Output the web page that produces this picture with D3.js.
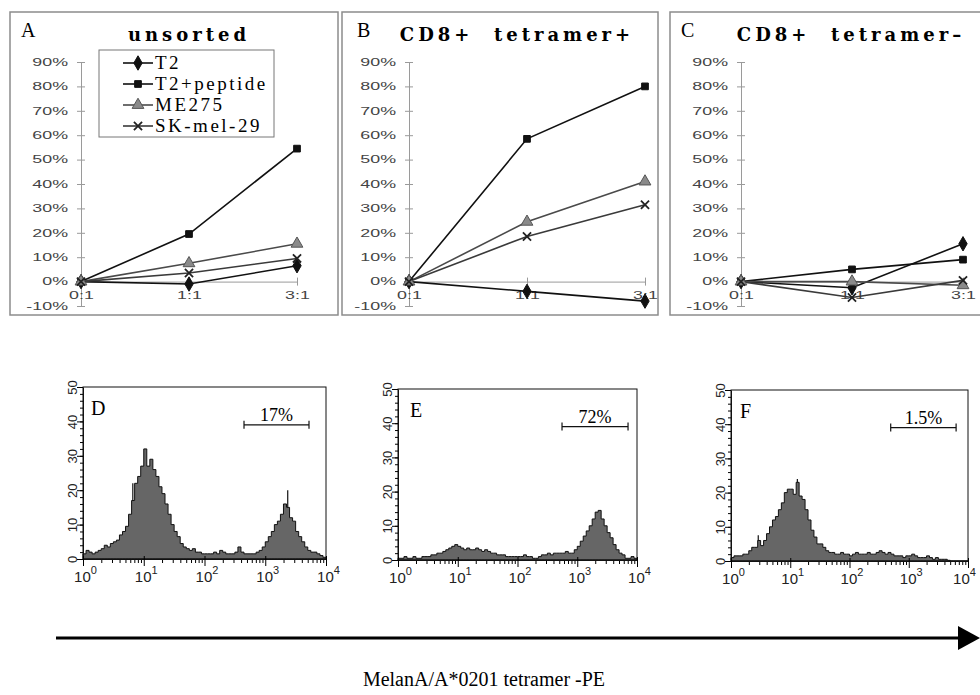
<!DOCTYPE html>
<html>
<head>
<meta charset="utf-8">
<script src="https://cdn.jsdelivr.net/npm/d3@7"></script>
<style>
  body { margin: 0; background: #fff; }
  svg { display: block; }
</style>
</head>
<body>
<div id="chart-container"></div>
<script>
// ---------- data ----------
var ratios = ["0:1", "1:1", "3:1"];
var seriesNames = ["T2", "T2+peptide", "ME275", "SK-mel-29"];
var percentTicks = [-10, 0, 10, 20, 30, 40, 50, 60, 70, 80, 90];

// % lysis, one row per series (same order as seriesNames)
var unsortedLysis = [[0, -1, 6.5], [0, 19.5, 54.5], [0, 7.5, 15.5], [0, 3.5, 9.5]];
var tetPosLysis   = [[0, -4, -8], [0, 58.5, 80], [0, 24.5, 41], [0, 18.5, 31.5]];
var tetNegLysis   = [[0, -2.5, 15.5], [0, 5, 9], [0, 0, -1.5], [0, -6.5, 0.5]];

// histograms: counts per bin, bins are 0.05 decade wide starting at 10^0
var histBinWidth = 0.05;
var histD = [1.5,2.5,2,1.5,2,2.5,3,4,3.5,4.5,
             5,5.5,7,8,9.5,13,17,22,24,27,
             32,27,29,26,24,21,19,16,13,10,
             8,6.5,4.5,3.5,3,2.5,3,2,2,1.5,
             1.5,1.5,1.5,2,1.5,2.5,2,1.5,1.5,1.5,
             2,3.5,2,1.5,1.5,1.5,1.5,2,2.5,3.5,
             5,6.5,8,10,11,13,16,15,12,11,
             8,6.5,5,3.5,2.5,2,2,1.5,1,0.5];
var histE = [0.5,0.5,1,0.5,0.5,1,0.5,0.5,1,1,
             1,1.5,1.5,2,2,2.5,3,3.5,4,4.5,
             4,3.5,3,3.5,3,3,3.5,3,2.5,3,
             2.5,2,2,1.5,1.5,1.5,1,1,1,1,
             1,1,1.5,1,1,0.5,0.5,1,1.5,1.5,
             2,1.5,2,2,2,2,2.5,2,2,3,
             4,5.5,7,8.5,10,12,14,14.5,12,10,
             8,6.5,4.5,3,2,1.5,0.5,0.5,1,0.5];
var histF = [1,1.5,1.5,1.5,2,2,3,4,4,6,
             4.5,6,8,10,12,13,15,17,20,21,
             21,19.5,23,19,18,15,12,9,7,5,
             5,4,3,2.5,2.5,2,2,2.5,2,2,
             1.5,2,2.5,2,2,2,2.5,2,2,2.5,
             3,2.5,2,2.5,2,1.5,1.5,1.5,1,1.5,
             1.5,2,1.5,1,1,1,1.5,1,0.5,1,
             0.5,0.5,0.5,0.2,0,0,0,0,0,0];
// single-channel spikes above the binned outline: [decade position, count]
var spikesD = [[0.82, 22], [3.37, 20]];
var spikesE = [];
var spikesF = [[0.46, 7.5], [1.12, 24]];

var countTicks = [0, 10, 20, 30, 40, 50];
var decadeTicks = [1, 10, 100, 1000, 10000];
var gateD = [447, 5250], gateE = [556, 7080], gateF = [496, 6300];
var gateLevel = 39;

// ---------- setup ----------
var serif = "'Liberation Serif', 'Times New Roman', serif";
var sans = "'Liberation Sans', Arial, sans-serif";

var svg = d3.select("#chart-container")
    .append("svg")
    .attr("width", 980)
    .attr("height", 695);

var markerTypes = [d3.symbolDiamond, d3.symbolSquare, d3.symbolTriangle, d3.symbolX];
var lineColors = ["#111", "#111", "#4a4a4a", "#3a3a3a"];
var markerFill = ["#111", "#111", "#8a8a8a", "none"];
var markerStroke = ["#111", "#111", "#555", "#222"];
var markerSize = [60, 45, 60, 45];

var yLysis = d3.scaleLinear().domain([-10, 90]).range([306, 62]);

function marker(g, i, cx, cy) {
    g.append("path")
        .attr("d", d3.symbol().type(markerTypes[i]).size(markerSize[i]))
        .attr("transform", "translate(" + cx + "," + cy + ")")
        .attr("fill", markerFill[i])
        .attr("stroke", markerStroke[i])
        .attr("stroke-width", i === 3 ? 1.8 : 1);
}

// top row: line charts
function drawLysisPanel(p, values) {
    var g = svg.append("g");

    g.append("rect")
        .attr("x", p.box[0]).attr("y", p.box[1])
        .attr("width", p.box[2]).attr("height", p.box[3])
        .attr("fill", "none")
        .attr("stroke", "#8c8c8c")
        .attr("stroke-width", 1.5);

    g.append("text")
        .attr("x", p.letterX).attr("y", 37)
        .style("font-family", serif)
        .style("font-size", "20px")
        .text(p.letter);

    g.append("text")
        .attr("x", p.titleX).attr("y", 41)
        .attr("text-anchor", "middle")
        .style("font-family", "'DejaVu Serif', serif")
        .style("font-weight", "bold")
        .style("font-size", "18px")
        .style("letter-spacing", "4px")
        .style("white-space", "pre")
        .text(p.title);

    var x = d3.scalePoint().domain(ratios).range([p.x0, p.x1]);

    // y axis
    var yAxis = g.append("g")
        .attr("transform", "translate(" + p.x0 + ",0)")
        .call(d3.axisLeft(yLysis).tickValues(percentTicks).tickSizeOuter(0)
            .tickFormat(function(d) { return d + "%"; }));
    yAxis.select(".domain").attr("stroke", "#9a9a9a");
    yAxis.selectAll(".tick line").attr("stroke", "#9a9a9a").attr("x1", -4).attr("x2", 4);
    yAxis.selectAll(".tick text")
        .attr("x", 0)
        .attr("transform", "translate(-13,0) scale(1.7,1)")
        .attr("fill", "#444")
        .style("font-family", sans)
        .style("font-size", "10.5px");

    // x axis along 0%
    var xAxis = g.append("g")
        .attr("transform", "translate(0," + yLysis(0) + ")")
        .call(d3.axisBottom(x).tickSizeOuter(0));
    xAxis.select(".domain").attr("stroke", "#9a9a9a");
    xAxis.selectAll(".tick line").attr("stroke", "#9a9a9a").attr("y1", -4).attr("y2", 4);
    xAxis.selectAll(".tick text")
        .attr("y", 0)
        .attr("dy", null)
        .attr("transform", "translate(0,17) scale(1.7,1)")
        .attr("fill", "#444")
        .style("font-family", sans)
        .style("font-size", "10.5px");

    var line = d3.line()
        .x(function(d, i) { return x(ratios[i]); })
        .y(function(d) { return yLysis(d); });

    values.forEach(function(row, s) {
        g.append("path")
            .datum(row)
            .attr("fill", "none")
            .attr("stroke", lineColors[s])
            .attr("stroke-width", 1.6)
            .attr("d", line);
    });
    values.forEach(function(row, s) {
        row.forEach(function(v, i) {
            marker(g, s, x(ratios[i]), yLysis(v));
        });
    });

    if (p.legend) {
        var lg = g.append("g");
        lg.append("rect")
            .attr("x", 99).attr("y", 50).attr("width", 175).attr("height", 87)
            .attr("fill", "#fff").attr("stroke", "#777").attr("stroke-width", 1);
        var rowY = [63, 84, 105, 126];
        seriesNames.forEach(function(name, s) {
            lg.append("line")
                .attr("x1", 123).attr("x2", 153)
                .attr("y1", rowY[s]).attr("y2", rowY[s])
                .attr("stroke", lineColors[s]).attr("stroke-width", 1.6);
            marker(lg, s, 138, rowY[s]);
            lg.append("text")
                .attr("x", 155).attr("y", rowY[s] + 6)
                .style("font-family", serif)
                .style("font-size", "19px")
                .style("letter-spacing", "2.5px")
                .text(name);
        });
    }
}

drawLysisPanel({box: [10, 12, 328, 303], letter: "A", letterX: 21, title: "unsorted", titleX: 189,
    x0: 81, x1: 297, legend: true}, unsortedLysis);
drawLysisPanel({box: [342, 12, 316, 303], letter: "B", letterX: 357, title: "CD8+  tetramer+", titleX: 517,
    x0: 409, x1: 645}, tetPosLysis);
drawLysisPanel({box: [670, 12, 320, 303], letter: "C", letterX: 681, title: "CD8+  tetramer\u2013", titleX: 851,
    x0: 741, x1: 963}, tetNegLysis);

// bottom row: histograms
function drawHistogram(p, counts, spikes, gate, gateLabel) {
    var g = svg.append("g");
    var x = d3.scaleLog().domain([1, 10000]).range([p.x0, p.x1]);
    var y = d3.scaleLinear().domain([0, 50]).range([p.yBase, p.yTop]);

    var pts = counts.map(function(c, i) { return {v: Math.pow(10, i * histBinWidth), c: c}; });
    pts.push({v: 10000, c: counts[counts.length - 1]});

    var area = d3.area()
        .curve(d3.curveStepAfter)
        .x(function(d) { return x(d.v); })
        .y0(y(0))
        .y1(function(d) { return y(d.c); });

    g.append("path")
        .datum(pts)
        .attr("d", area)
        .attr("fill", "#666")
        .attr("stroke", "#111")
        .attr("stroke-width", 1);

    spikes.forEach(function(s) {
        var sx = x(Math.pow(10, s[0]));
        var base = counts[Math.floor(s[0] / histBinWidth)];
        g.append("line")
            .attr("x1", sx).attr("x2", sx)
            .attr("y1", y(base)).attr("y2", y(s[1]))
            .attr("stroke", "#111").attr("stroke-width", 1.2);
    });

    g.append("rect")
        .attr("x", p.x0).attr("y", p.yTop)
        .attr("width", p.x1 - p.x0).attr("height", p.yBase - p.yTop)
        .attr("fill", "none").attr("stroke", "#111").attr("stroke-width", 1);

    // y axis: minor ticks every 2, major every 10
    var yMinor = g.append("g").attr("transform", "translate(" + p.x0 + ",0)")
        .call(d3.axisLeft(y).tickValues(d3.range(0, 51, 2)).tickSize(3).tickFormat(""));
    yMinor.select(".domain").remove();

    var yMajor = g.append("g").attr("transform", "translate(" + p.x0 + ",0)")
        .call(d3.axisLeft(y).tickValues(countTicks).tickSize(6).tickSizeOuter(0));
    yMajor.select(".domain").attr("stroke", "#111");
    yMajor.selectAll(".tick text")
        .attr("x", 0).attr("y", -6).attr("dy", null)
        .attr("transform", "rotate(-90)")
        .attr("text-anchor", "middle")
        .attr("fill", "#222")
        .style("font-family", sans)
        .style("font-size", "13px");

    // x axis: log minor ticks and decades
    var minor = [];
    decadeTicks.slice(0, -1).forEach(function(d) {
        for (var k = 2; k <= 9; k++) minor.push(d * k);
    });
    var xMinor = g.append("g").attr("transform", "translate(0," + p.yBase + ")")
        .call(d3.axisBottom(x).tickValues(minor).tickSize(4).tickFormat(""));
    xMinor.select(".domain").remove();

    var xMajor = g.append("g").attr("transform", "translate(0," + p.yBase + ")")
        .call(d3.axisBottom(x).tickValues(decadeTicks).tickSize(7).tickSizeOuter(0).tickFormat(""));
    xMajor.select(".domain").attr("stroke", "#111");
    xMajor.selectAll(".tick line").attr("y1", -3);

    xMajor.selectAll(".tick").each(function(d) {
        // keep the last label inside the page
        var dx = Math.min(2, 977 - 13 - x(d));
        var t = d3.select(this).append("text")
            .attr("x", dx).attr("y", 23)
            .attr("text-anchor", "middle")
            .attr("fill", "#222")
            .style("font-family", sans)
            .style("font-size", "15px");
        t.append("tspan").text("10");
        t.append("tspan").attr("dy", -8).style("font-size", "11px").text(Math.round(Math.log10(d)));
    });

    g.append("text")
        .attr("x", p.letterX).attr("y", p.yTop + 28)
        .style("font-family", serif)
        .style("font-size", "20px")
        .text(p.letter);

    var gy = y(gateLevel), gx0 = x(gate[0]), gx1 = x(gate[1]);
    g.append("line").attr("x1", gx0).attr("x2", gx1).attr("y1", gy).attr("y2", gy)
        .attr("stroke", "#111").attr("stroke-width", 1.2);
    [gx0, gx1].forEach(function(e) {
        g.append("line").attr("x1", e).attr("x2", e).attr("y1", gy - 4).attr("y2", gy + 4)
            .attr("stroke", "#111").attr("stroke-width", 1.2);
    });
    g.append("text")
        .attr("x", (gx0 + gx1) / 2).attr("y", gy - 4)
        .attr("text-anchor", "middle")
        .style("font-family", serif)
        .style("font-size", "18px")
        .text(gateLabel);
}

drawHistogram({x0: 83, x1: 326, yTop: 387, yBase: 559, letter: "D", letterX: 91}, histD, spikesD, gateD, "17%");
drawHistogram({x0: 398, x1: 637, yTop: 389, yBase: 560, letter: "E", letterX: 410}, histE, spikesE, gateE, "72%");
drawHistogram({x0: 731, x1: 968, yTop: 390, yBase: 561, letter: "F", letterX: 740}, histF, spikesF, gateF, "1.5%");

// long arrow and axis caption
svg.append("line")
    .attr("x1", 56).attr("x2", 962)
    .attr("y1", 638).attr("y2", 638)
    .attr("stroke", "#000").attr("stroke-width", 3);
svg.append("path")
    .attr("d", "M958,626L980,638L958,650Z")
    .attr("fill", "#000");
svg.append("text")
    .attr("x", 484).attr("y", 686)
    .attr("text-anchor", "middle")
    .style("font-family", serif)
    .style("font-size", "20px")
    .text("MelanA/A*0201 tetramer -PE");
</script>
</body>
</html>
